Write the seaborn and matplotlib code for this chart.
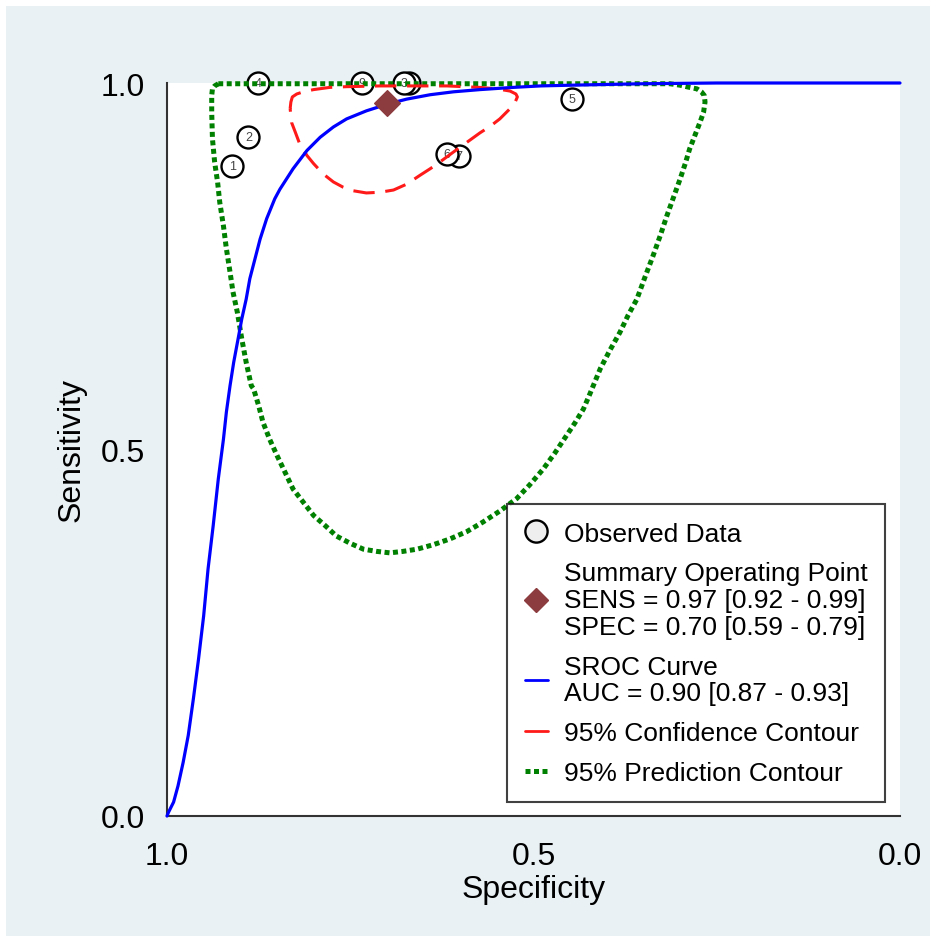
import matplotlib
matplotlib.use("Agg")
import matplotlib.pyplot as plt
import seaborn as sns
from matplotlib.lines import Line2D
from matplotlib.patches import Rectangle

# observed studies (specificity, sensitivity)
study_id = ["1", "2", "3", "4", "5", "6", "7", "8", "9"]
study_spec = [0.911, 0.889, 0.677, 0.876, 0.447, 0.618, 0.602, 0.670, 0.734]
study_sens = [0.887, 0.926, 1.000, 1.000, 0.978, 0.903, 0.900, 1.000, 1.000]

# summary operating point
summary_spec = [0.700]
summary_sens = [0.973]

# SROC curve
sroc_spec = [1.000, 0.998, 0.991, 0.985, 0.978, 0.971, 0.964, 0.957, 0.950, 0.944,
             0.937, 0.930, 0.923, 0.919, 0.914, 0.909, 0.903, 0.898, 0.892, 0.887,
             0.880, 0.873, 0.864, 0.853, 0.846, 0.828, 0.809, 0.791, 0.773, 0.755,
             0.728, 0.700, 0.673, 0.641, 0.609, 0.573, 0.528, 0.491, 0.450, 0.400,
             0.350, 0.300, 0.250, 0.000]
sroc_sens = [0.000, 0.005, 0.019, 0.041, 0.073, 0.110, 0.160, 0.214, 0.273, 0.337,
             0.396, 0.460, 0.514, 0.551, 0.587, 0.619, 0.651, 0.678, 0.705, 0.733,
             0.760, 0.787, 0.815, 0.842, 0.855, 0.883, 0.908, 0.926, 0.940, 0.951,
             0.962, 0.971, 0.978, 0.984, 0.988, 0.991, 0.994, 0.996, 0.997, 0.998,
             0.999, 0.9995, 1.000, 1.000]

# 95% confidence contour (closed)
conf_spec = [0.832, 0.831, 0.829, 0.823, 0.814, 0.800, 0.778, 0.755, 0.709, 0.664,
             0.618, 0.573, 0.550, 0.532, 0.524, 0.522, 0.525, 0.532, 0.546, 0.559,
             0.573, 0.591, 0.609, 0.628, 0.641, 0.655, 0.673, 0.691, 0.709, 0.728,
             0.746, 0.760, 0.773, 0.787, 0.800, 0.809, 0.819, 0.825, 0.830, 0.832]
conf_sens = [0.965, 0.974, 0.981, 0.985, 0.988, 0.991, 0.994, 0.995, 0.996, 0.996,
             0.996, 0.994, 0.992, 0.989, 0.985, 0.981, 0.974, 0.965, 0.951, 0.941,
             0.932, 0.919, 0.906, 0.892, 0.883, 0.874, 0.862, 0.854, 0.851, 0.850,
             0.853, 0.858, 0.865, 0.876, 0.890, 0.901, 0.917, 0.933, 0.946, 0.965]

# 95% prediction contour (closed)
pred_spec = [0.930, 0.935, 0.938, 0.939, 0.939, 0.938, 0.935, 0.931, 0.928, 0.923,
             0.919, 0.914, 0.910, 0.904, 0.898, 0.892, 0.885, 0.882, 0.875, 0.869,
             0.860, 0.850, 0.839, 0.828, 0.814, 0.800, 0.784, 0.769, 0.750, 0.732,
             0.714, 0.696, 0.678, 0.659, 0.637, 0.614, 0.591, 0.569, 0.546, 0.523,
             0.505, 0.487, 0.471, 0.455, 0.443, 0.432, 0.423, 0.409, 0.396, 0.382,
             0.371, 0.359, 0.348, 0.337, 0.327, 0.318, 0.309, 0.300, 0.293, 0.287,
             0.280, 0.273, 0.268, 0.266, 0.267, 0.271, 0.277, 0.287, 0.300, 0.314,
             0.400, 0.500, 0.600, 0.700, 0.800, 0.900, 0.930]
pred_sens = [0.999, 0.996, 0.992, 0.983, 0.960, 0.924, 0.892, 0.865, 0.837, 0.805,
             0.774, 0.742, 0.715, 0.687, 0.651, 0.619, 0.587, 0.583, 0.560, 0.537,
             0.514, 0.492, 0.469, 0.446, 0.428, 0.410, 0.396, 0.382, 0.372, 0.364,
             0.361, 0.359, 0.361, 0.364, 0.370, 0.378, 0.388, 0.401, 0.416, 0.433,
             0.452, 0.473, 0.495, 0.519, 0.537, 0.555, 0.576, 0.610, 0.635, 0.660,
             0.683, 0.705, 0.735, 0.764, 0.792, 0.819, 0.844, 0.869, 0.890, 0.910,
             0.928, 0.946, 0.960, 0.974, 0.983, 0.988, 0.992, 0.994, 0.997, 0.999,
             0.999, 0.999, 0.999, 0.999, 0.999, 0.999, 0.999]

ticks = [0.0, 0.5, 1.0]
tick_labels = ["0.0", "0.5", "1.0"]

legend_labels = [
    "Observed Data",
    "Summary Operating Point\nSENS = 0.97 [0.92 - 0.99]\nSPEC = 0.70 [0.59 - 0.79]",
    "SROC Curve\nAUC = 0.90 [0.87 - 0.93]",
    "95% Confidence Contour",
    "95% Prediction Contour",
]

sns.set_style("white")
plt.rcParams["font.family"] = ["Liberation Sans", "DejaVu Sans"]
plt.rcParams["text.color"] = "black"
plt.rcParams["axes.labelcolor"] = "black"

bg = "#EAF1F4"
fig = plt.figure(figsize=(9.3, 9.37), dpi=100, facecolor="white")
fig.patches.append(Rectangle((6 / 930, 0), 1, 1 - 7 / 937, transform=fig.transFigure,
                             facecolor=bg, edgecolor="none", zorder=-10))
ax = fig.add_axes([167 / 930, 120 / 937, 733 / 930, 733 / 937])
ax.set_facecolor("white")

# study circles, later ones drawn first so that circle 6 hides label 7
for k in reversed(range(len(study_id))):
    z = 2 + (len(study_id) - k) * 0.01
    sns.scatterplot(x=[study_spec[k]], y=[study_sens[k]], ax=ax, s=250,
                    facecolor="white", edgecolor="black", linewidth=1.7,
                    zorder=z, clip_on=False, legend=False)
    ax.text(study_spec[k], study_sens[k], study_id[k], ha="center", va="center",
            fontsize=9, color="#444444", zorder=z + 0.005)

sns.lineplot(x=pred_spec, y=pred_sens, ax=ax, sort=False, estimator=None,
             color="#008000", lw=3.6, zorder=3, clip_on=False)
ax.lines[-1].set_linestyle((0, (1, 0.7)))
sns.lineplot(x=conf_spec, y=conf_sens, ax=ax, sort=False, estimator=None,
             color="#FF1A1A", lw=2.2, zorder=3.1, clip_on=False)
ax.lines[-1].set_linestyle((0, (7, 3.5)))
sns.lineplot(x=sroc_spec, y=sroc_sens, ax=ax, sort=False, estimator=None,
             color="#0000FF", lw=2.3, zorder=3.2, clip_on=False)
sns.scatterplot(x=summary_spec, y=summary_sens, ax=ax, marker="D", s=170,
                color="#8C3B3E", edgecolor="#8C3B3E", zorder=4, legend=False)

ax.set_xlim(1.0, 0.0)
ax.set_ylim(0.0, 1.0)
ax.set_xticks(ticks)
ax.set_xticklabels(tick_labels)
ax.set_yticks(ticks)
ax.set_yticklabels(tick_labels)
ax.tick_params(axis="both", direction="out", length=11, width=1.5, colors="#333333",
               labelsize=23, labelcolor="black")
ax.tick_params(axis="x", pad=7)
ax.tick_params(axis="y", pad=5)
for side in ["top", "right"]:
    ax.spines[side].set_visible(False)
for side in ["left", "bottom"]:
    ax.spines[side].set_color("#333333")
    ax.spines[side].set_linewidth(1.5)
ax.set_xlabel("Specificity", fontsize=23, labelpad=2)
ax.set_ylabel("Sensitivity", fontsize=23, labelpad=10)

handles = [
    Line2D([], [], marker="o", ls="none", markersize=16, markerfacecolor="#EEEEEE",
           markeredgecolor="black", markeredgewidth=1.7),
    Line2D([], [], marker="D", ls="none", markersize=12, markerfacecolor="#8C3B3E",
           markeredgecolor="#8C3B3E"),
    Line2D([], [], color="#0000FF", lw=2),
    Line2D([], [], color="#FF1A1A", lw=2),
    Line2D([], [], color="#008000", lw=3.6, ls=(0, (1, 0.7))),
]
leg = ax.legend(handles, legend_labels, loc="lower right",
                bbox_to_anchor=(718 / 733, 14 / 733), borderaxespad=0,
                fontsize=19, frameon=True, fancybox=False, handlelength=0.9,
                handletextpad=0.6, labelspacing=0.6, borderpad=0.65)
leg.get_frame().set_edgecolor("#111111")
leg.get_frame().set_linewidth(1.5)
leg.set_zorder(6)
for t in leg.get_texts():
    t.set_linespacing(1.14)

fig.savefig("out.png", dpi=100, facecolor=fig.get_facecolor())
